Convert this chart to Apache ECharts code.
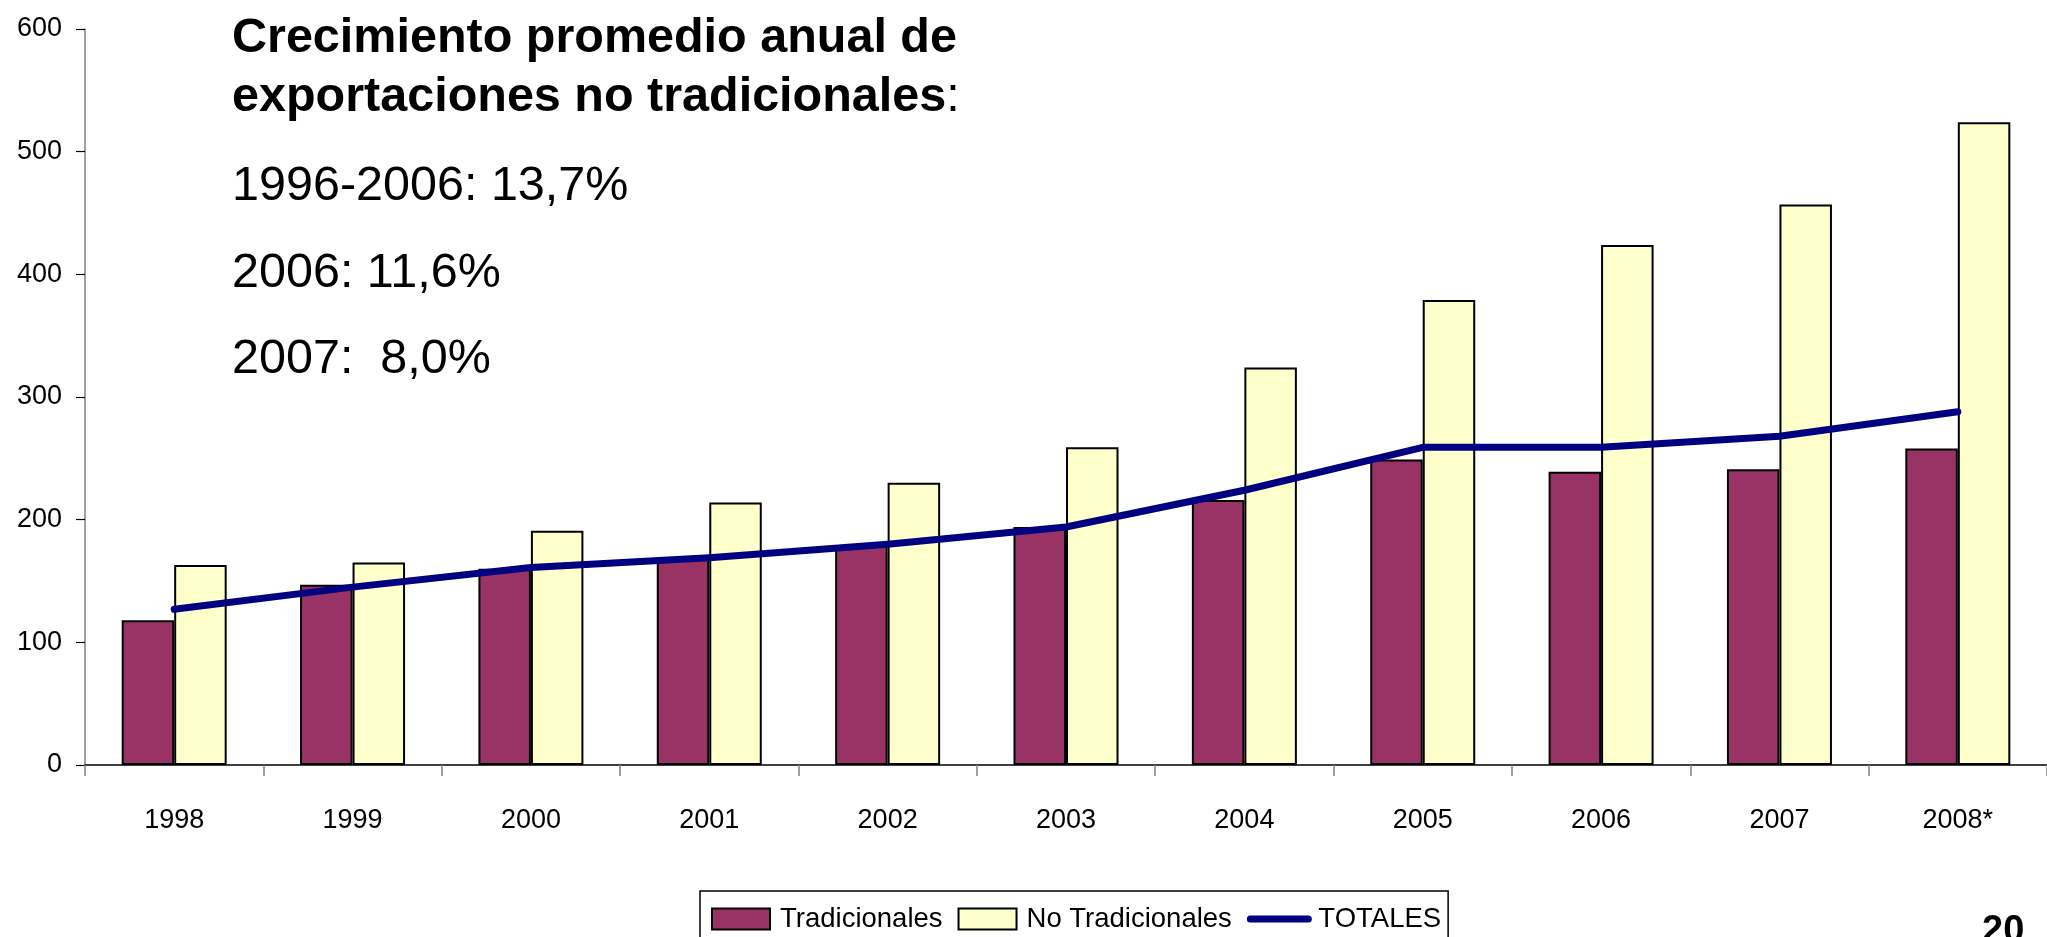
<!DOCTYPE html>
<html>
<head>
<meta charset="utf-8">
<script src="https://cdn.jsdelivr.net/npm/echarts@6/dist/echarts.min.js"></script>
<style>
    html, body { margin: 0; padding: 0; background: #fff; }
    .bar-chart { width: 2047px; height: 937px; }
</style>
</head>
<body>
<div class="bar-chart"></div>
<script>
let years = ['1998', '1999', '2000', '2001', '2002', '2003', '2004', '2005', '2006', '2007', '2008*'];
let tradicionales = [118, 147, 160, 169, 179, 194, 216, 249, 239, 241, 258];
let noTradicionales = [163, 165, 191, 214, 230, 259, 324, 379, 424, 457, 524];
let totales = [127, 145, 161, 169, 180, 194, 224, 259, 259, 268, 288];
let yTicks = [0, 100, 200, 300, 400, 500, 600];

let font = '"Liberation Sans", Arial, sans-serif';

let option = {
    animation: false,
    backgroundColor: '#ffffff',
    textStyle: { fontFamily: font },
    grid: {
        left: 85,
        top: 29,
        width: 1975,
        height: 736,
        containLabel: false
    },
    legend: {
        left: 700,
        top: 891,
        width: 745,
        padding: [14, 7, 22, 11],
        borderColor: '#000000',
        borderWidth: 1.5,
        itemWidth: 58,
        itemHeight: 21,
        itemGap: 15,
        textStyle: {
            fontFamily: font,
            fontSize: 27.5,
            color: '#000000',
            padding: [0, 0, 0, 5]
        },
        data: [
            { name: 'Tradicionales', icon: 'rect' },
            { name: 'No Tradicionales', icon: 'rect' },
            // line swatch only, no dot
            { name: 'TOTALES', itemStyle: { opacity: 0 }, lineStyle: { width: 7, cap: 'round' } }
        ]
    },
    xAxis: {
        type: 'category',
        data: years,
        boundaryGap: true,
        axisLine: { lineStyle: { color: '#000000', width: 1.5 } },
        axisTick: { show: true, length: 11, lineStyle: { color: '#808080', width: 1.5 } },
        axisLabel: { color: '#000000', fontSize: 27, fontFamily: font, margin: 42 },
        splitLine: { show: false }
    },
    yAxis: {
        type: 'value',
        min: yTicks[0],
        max: yTicks[yTicks.length - 1],
        interval: 100,
        axisLine: { show: true, lineStyle: { color: '#808080', width: 1.5 } },
        axisTick: { show: true, length: 9, lineStyle: { color: '#000000', width: 1.2 } },
        axisLabel: { color: '#000000', fontSize: 27, fontFamily: font, margin: 23 },
        splitLine: { show: false }
    },
    series: [
        {
            name: 'Tradicionales',
            type: 'bar',
            data: tradicionales,
            barWidth: 52.5,
            barGap: '0%',
            itemStyle: { color: '#993366', borderColor: '#000000', borderWidth: 2 }
        },
        {
            name: 'No Tradicionales',
            type: 'bar',
            data: noTradicionales,
            barWidth: 52.5,
            barGap: '0%',
            itemStyle: { color: '#ffffcc', borderColor: '#000000', borderWidth: 2 }
        },
        {
            name: 'TOTALES',
            type: 'line',
            data: totales,
            symbol: 'none',
            z: 5,
            lineStyle: { color: '#000080', width: 7, cap: 'round', join: 'round' },
            itemStyle: { color: '#000080' }
        }
    ],
    graphic: [
        {
            type: 'text', left: 232, top: 39 - 25,
            style: { text: 'Crecimiento promedio anual de', fontSize: 48.5, fontWeight: 'bold', fontFamily: font, fill: '#000' }
        },
        {
            type: 'text', left: 232, top: 98 - 25,
            style: {
                text: '{b|exportaciones no tradicionales}{r|:}',
                fontFamily: font, fill: '#000',
                rich: {
                    b: { fontSize: 48.5, fontWeight: 'bold', fontFamily: font, fill: '#000' },
                    r: { fontSize: 48.5, fontFamily: font, fill: '#000' }
                }
            }
        },
        {
            type: 'text', left: 232, top: 187 - 25,
            style: { text: '1996-2006: 13,7%', fontSize: 48.5, fontFamily: font, fill: '#000' }
        },
        {
            type: 'text', left: 232, top: 274 - 25,
            style: { text: '2006: 11,6%', fontSize: 48.5, fontFamily: font, fill: '#000' }
        },
        {
            type: 'text', left: 232, top: 360 - 25,
            style: { text: '2007:  8,0%', fontSize: 48.5, fontFamily: font, fill: '#000' }
        },
        {
            type: 'text', left: 1982, top: 913,
            style: { text: '20', fontSize: 38, fontWeight: 'bold', fontFamily: font, fill: '#000' }
        }
    ]
};

let chart = echarts.init(document.querySelector('.bar-chart'));
chart.setOption(option);
</script>
</body>
</html>
